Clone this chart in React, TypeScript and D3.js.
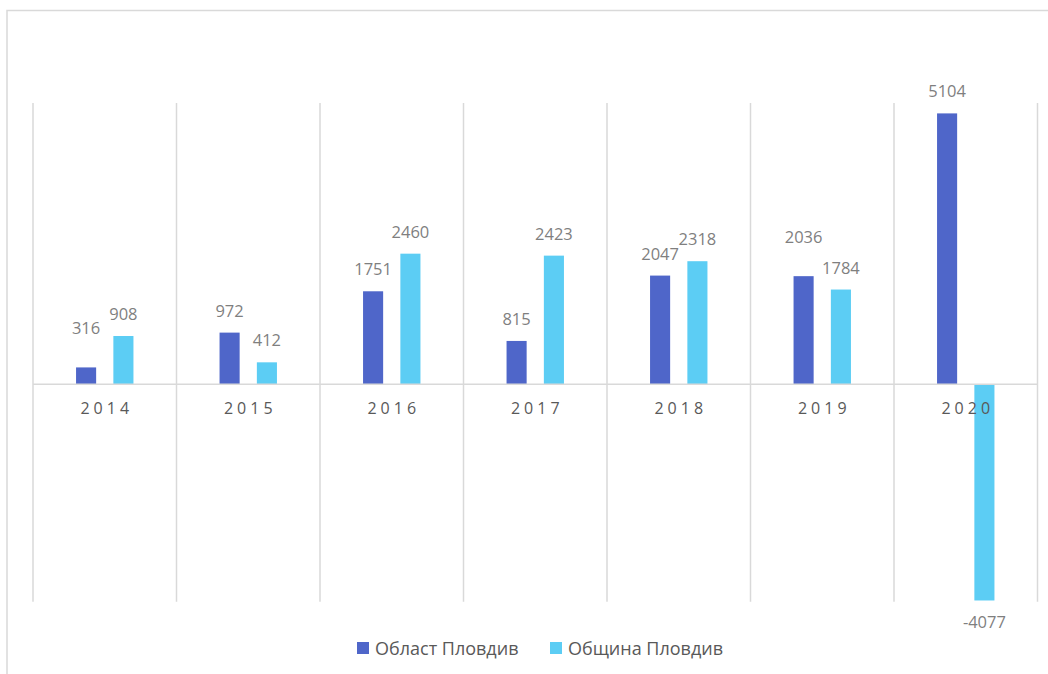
import React from "react";
import * as d3 from "d3";

const categories = ["2014", "2015", "2016", "2017", "2018", "2019", "2020"];
const oblast = [316, 972, 1751, 815, 2047, 2036, 5104];
const obshtina = [908, 412, 2460, 2423, 2318, 1784, -4077];
const seriesNames = ["Област Пловдив", "Община Пловдив"];
const colors = ["#4F66C9", "#5CCDF4"];

// manual label nudges (pixels) seen in the reference, keyed by series/category index
const labelNudge: Record<string, number> = { "0-0": -17, "0-5": -17 };

const W = 1048;
const H = 674;
const plot = { left: 33, right: 1037.5, top: 103, bottom: 601.7 };
const font = "'Open Sans', 'Noto Sans', sans-serif";

export default function App() {
  const x = d3
    .scaleBand<string>()
    .domain(categories)
    .range([plot.left, plot.right])
    .paddingInner(0)
    .paddingOuter(0);
  const y = d3.scaleLinear().domain([-4100, 5300]).range([plot.bottom, plot.top]);
  const step = x.step();
  const barW = step * 0.14;
  const gap = step * 0.12;
  const series = [oblast, obshtina];
  const y0 = y(0);

  return (
    <svg width={W} height={H} style={{ position: "absolute", left: 0, top: 0 }}>
      <rect x={0} y={0} width={W} height={H} fill="#fff" />
      <rect x={7} y={10.5} width={W + 20} height={H + 20} fill="none" stroke="#d9d9d9" strokeWidth={1.5} />
      {/* vertical gridlines (category boundaries) */}
      {categories.concat(["end"]).map((c, i) => {
        const gx = plot.left + i * step;
        return (
          <line key={c} x1={gx} x2={gx} y1={plot.top} y2={plot.bottom} stroke="#d9d9d9" strokeWidth={1.5} />
        );
      })}
      {/* bars */}
      {series.map((vals, si) =>
        vals.map((v, ci) => {
          const cx = (x(categories[ci]) as number) + step / 2;
          const bx = si === 0 ? cx - gap / 2 - barW : cx + gap / 2;
          const top = Math.min(y(v), y0);
          const h = Math.abs(y(v) - y0);
          return <rect key={`b${si}-${ci}`} x={bx} y={top} width={barW} height={h} fill={colors[si]} />;
        })
      )}
      {/* zero line */}
      <line x1={plot.left} x2={plot.right} y1={y0} y2={y0} stroke="#d9d9d9" strokeWidth={1.5} />
      {/* category labels */}
      {categories.map((c) => (
        <text
          key={c}
          x={(x(c) as number) + step / 2 + 2}
          y={y0 + 30}
          textAnchor="middle"
          fontFamily={font}
          fontSize={16}
          letterSpacing={4}
          fill="#595959"
        >
          {c}
        </text>
      ))}
      {/* data labels */}
      {series.map((vals, si) =>
        vals.map((v, ci) => {
          const cx = (x(categories[ci]) as number) + step / 2;
          const bcx = si === 0 ? cx - gap / 2 - barW / 2 : cx + gap / 2 + barW / 2;
          const nudge = labelNudge[`${si}-${ci}`] || 0;
          const ly = v >= 0 ? y(v) - 16 + nudge : y(v) + 28;
          return (
            <text
              key={`l${si}-${ci}`}
              x={bcx}
              y={ly}
              textAnchor="middle"
              fontFamily={font}
              fontSize={16.5}
              fill="#7f7f7f"
            >
              {v}
            </text>
          );
        })
      )}
      {/* legend */}
      {seriesNames.map((n, i) => {
        const lx = i === 0 ? 357 : 550;
        return (
          <g key={n}>
            <rect x={lx} y={642} width={12} height={12} fill={colors[i]} />
            <text x={lx + 18} y={655} fontFamily={font} fontSize={18} fill="#595959">
              {n}
            </text>
          </g>
        );
      })}
    </svg>
  );
}
